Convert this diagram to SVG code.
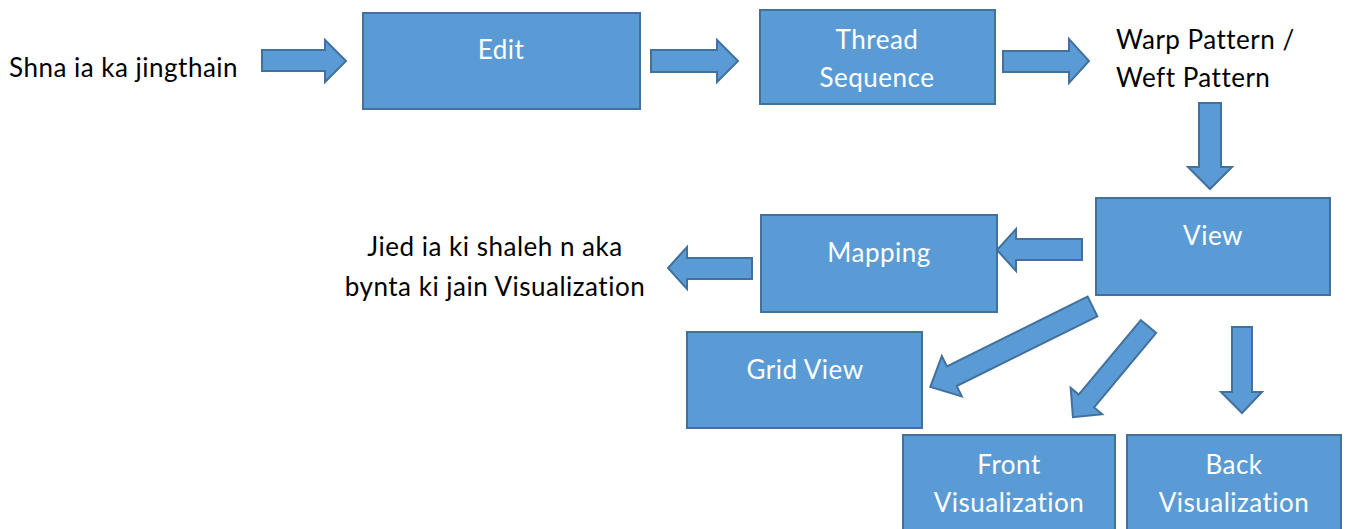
<svg xmlns="http://www.w3.org/2000/svg" width="1351" height="529" viewBox="0 0 1351 529">
<style>
.box{fill:#5B9BD5;stroke:#41719C;stroke-width:2}
.arr{fill:#5B9BD5;stroke:#41719C;stroke-width:2;stroke-linejoin:miter}
.bt{font-family:Lato,"Open Sans","Liberation Sans",sans-serif;font-size:26px;letter-spacing:0.5px;fill:#FFFFFF;text-anchor:middle}
.pt{font-family:Lato,"Open Sans","Liberation Sans",sans-serif;font-size:26px;letter-spacing:0.5px;fill:#000000}
</style>
<rect width="1351" height="529" fill="#FFFFFF"/>
<g id="input-label"><text class="pt" x="9" y="77">Shna ia ka jingthain</text></g>
<g id="edit"><rect class="box" x="363" y="13" width="277" height="96"/><text class="bt" x="501" y="59">Edit</text></g>
<g id="thread-sequence"><rect class="box" x="760" y="10" width="235" height="94"/><text class="bt" x="877" y="49">Thread</text><text class="bt" x="877" y="87">Sequence</text></g>
<g id="warp-weft"><text class="pt" x="1116" y="49">Warp Pattern /</text><text class="pt" x="1116" y="87">Weft Pattern</text></g>
<g id="view"><rect class="box" x="1096" y="198" width="234" height="97"/><text class="bt" x="1213" y="245">View</text></g>
<g id="mapping"><rect class="box" x="761" y="215" width="236" height="97"/><text class="bt" x="879" y="262">Mapping</text></g>
<g id="output-label"><text class="pt" x="495" y="256" text-anchor="middle">Jied ia ki shaleh n aka</text><text class="pt" x="495" y="296" text-anchor="middle">bynta ki jain Visualization</text></g>
<g id="grid-view"><rect class="box" x="687" y="332" width="235" height="96"/><text class="bt" x="805" y="379">Grid View</text></g>
<g id="front-visualization"><rect class="box" x="903" y="435" width="212" height="110"/><text class="bt" x="1009" y="474">Front</text><text class="bt" x="1009" y="512">Visualization</text></g>
<g id="back-visualization"><rect class="box" x="1127" y="435" width="214" height="110"/><text class="bt" x="1234" y="474">Back</text><text class="bt" x="1234" y="512">Visualization</text></g>
<g id="connectors">
<polygon class="arr" points="262,50 325,50 325,40 346,61 325,82 325,71 262,71"/>
<polygon class="arr" points="651,50 717,50 717,40 738,61 717,82 717,72 651,72"/>
<polygon class="arr" points="1003,51 1069,51 1069,39 1089,61 1069,83 1069,72 1003,72"/>
<polygon class="arr" points="1199,103 1221,103 1221,167 1232,167 1210,189 1188,167 1199,167"/>
<polygon class="arr" points="1082,239 1016,239 1016,229 997,250 1016,271 1016,260 1082,260"/>
<polygon class="arr" points="752,258 687,258 687,247 668,268 687,289 687,279 752,279"/>
<polygon class="arr" points="1232,327 1252,327 1252,392 1262,392 1242,413 1221,392 1232,392"/>
<path class="arr" d="M0,-11 L157,-11 L157,-22.5 L181,0 L157,22.5 L157,11 L0,11 Z" transform="translate(1092.5,306.5) rotate(153.65)"/>
<path class="arr" d="M0,-10 L97,-10 L97,-20.5 L118,0 L97,20.5 L97,10 L0,10 Z" transform="translate(1148.5,326.5) rotate(129.8)"/>
</g>
</svg>
